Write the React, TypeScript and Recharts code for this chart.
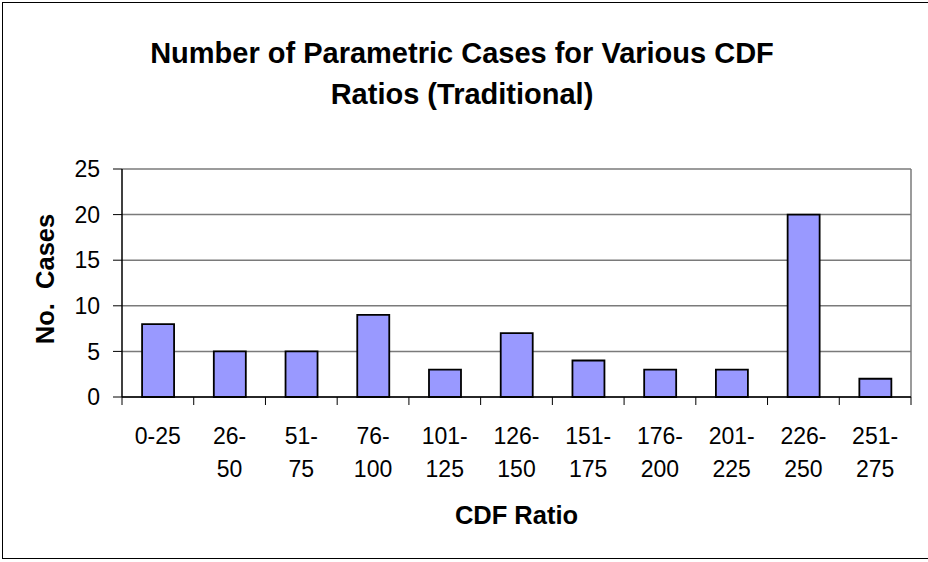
import { BarChart, Bar, XAxis, YAxis, CartesianGrid } from "recharts";

const ratioBins = ["0-25", "26-50", "51-75", "76-100", "101-125", "126-150", "151-175", "176-200", "201-225", "226-250", "251-275"];
const caseCounts = [8, 5, 5, 9, 3, 7, 4, 3, 3, 20, 2];
const yTicks = [0, 5, 10, 15, 20, 25];

const data = ratioBins.map((bin, i) => ({ bin, cases: caseCounts[i] }));

const FONT = "'Liberation Sans', Arial, sans-serif";

function BinTick(props: any) {
  const { x, y, payload, index, visibleTicksCount } = props;
  const half = payload.offset || 0;
  const label: string = payload.value;
  const lines = label.length > 4 ? [label.slice(0, label.indexOf("-") + 1), label.slice(label.indexOf("-") + 1)] : [label];
  const isLast = index === visibleTicksCount - 1;
  const axisY = y - 8;
  return (
    <g>
      <line x1={x - half} x2={x - half} y1={axisY} y2={axisY + 8} stroke="#000" strokeWidth={1} />
      {isLast && <line x1={x + half} x2={x + half} y1={axisY} y2={axisY + 8} stroke="#000" strokeWidth={1} />}
      {lines.map((ln, i) => (
        <text key={i} x={x} y={axisY + 47 + i * 33} textAnchor="middle" fontSize={23} fontFamily={FONT} fill="#000">
          {ln}
        </text>
      ))}
    </g>
  );
}

export default function App() {
  return (
    <div style={{ position: "absolute", left: 0, top: 0, width: 928, height: 562, background: "#fff", overflow: "hidden" }}>
      <div style={{ position: "absolute", left: 2, top: 2, width: 940, height: 557, border: "1.5px solid #000", boxSizing: "border-box" }} />
      <div
        style={{
          position: "absolute",
          left: 0,
          width: 924,
          top: 33,
          textAlign: "center",
          fontFamily: FONT,
          fontWeight: "bold",
          fontSize: 29,
          lineHeight: "41px",
          color: "#000",
        }}
      >
        Number of Parametric Cases for Various CDF
        <br />
        Ratios (Traditional)
      </div>
      <BarChart
        width={928}
        height={562}
        data={data}
        margin={{ top: 169, right: 17, bottom: 0, left: 0 }}
        barCategoryGap="28%"
        style={{ position: "absolute", left: 0, top: 0 }}
      >
        <CartesianGrid
          stroke="#7a7a7a"
          strokeWidth={1.5}
          verticalCoordinatesGenerator={({ offset }: any) => [offset.left + offset.width]}
        />
        <XAxis
          dataKey="bin"
          height={165}
          axisLine={{ stroke: "#000", strokeWidth: 1.5 }}
          tickLine={false}
          tickSize={8}
          tickMargin={0}
          interval={0}
          tick={<BinTick />}
          label={({ viewBox }: any) => (
            <text x={viewBox.x + viewBox.width / 2} y={viewBox.y + 127} textAnchor="middle" fontSize={25.5} fontWeight="bold" fontFamily={FONT} fill="#000">
              CDF Ratio
            </text>
          )}
        />
        <YAxis
          width={122}
          domain={[0, 25]}
          ticks={yTicks}
          axisLine={{ stroke: "#000", strokeWidth: 1.5 }}
          tickLine={{ stroke: "#000", strokeWidth: 1 }}
          tickSize={9}
          tickMargin={13}
          tick={{ fontSize: 23, fontFamily: FONT, fill: "#000" }}
          label={({ viewBox }: any) => {
            const cy = viewBox.y + viewBox.height / 2 - 4;
            return (
              <text
                x={45}
                y={cy}
                transform={`rotate(-90 45 ${cy})`}
                textAnchor="middle"
                dominantBaseline="central"
                fontSize={25.5}
                fontWeight="bold"
                fontFamily={FONT}
                fill="#000"
                style={{ whiteSpace: "pre" }}
              >
                {"No.  Cases"}
              </text>
            );
          }}
        />
        <Bar dataKey="cases" fill="#9999ff" stroke="#000" strokeWidth={1.8} isAnimationActive={false} />
      </BarChart>
    </div>
  );
}
